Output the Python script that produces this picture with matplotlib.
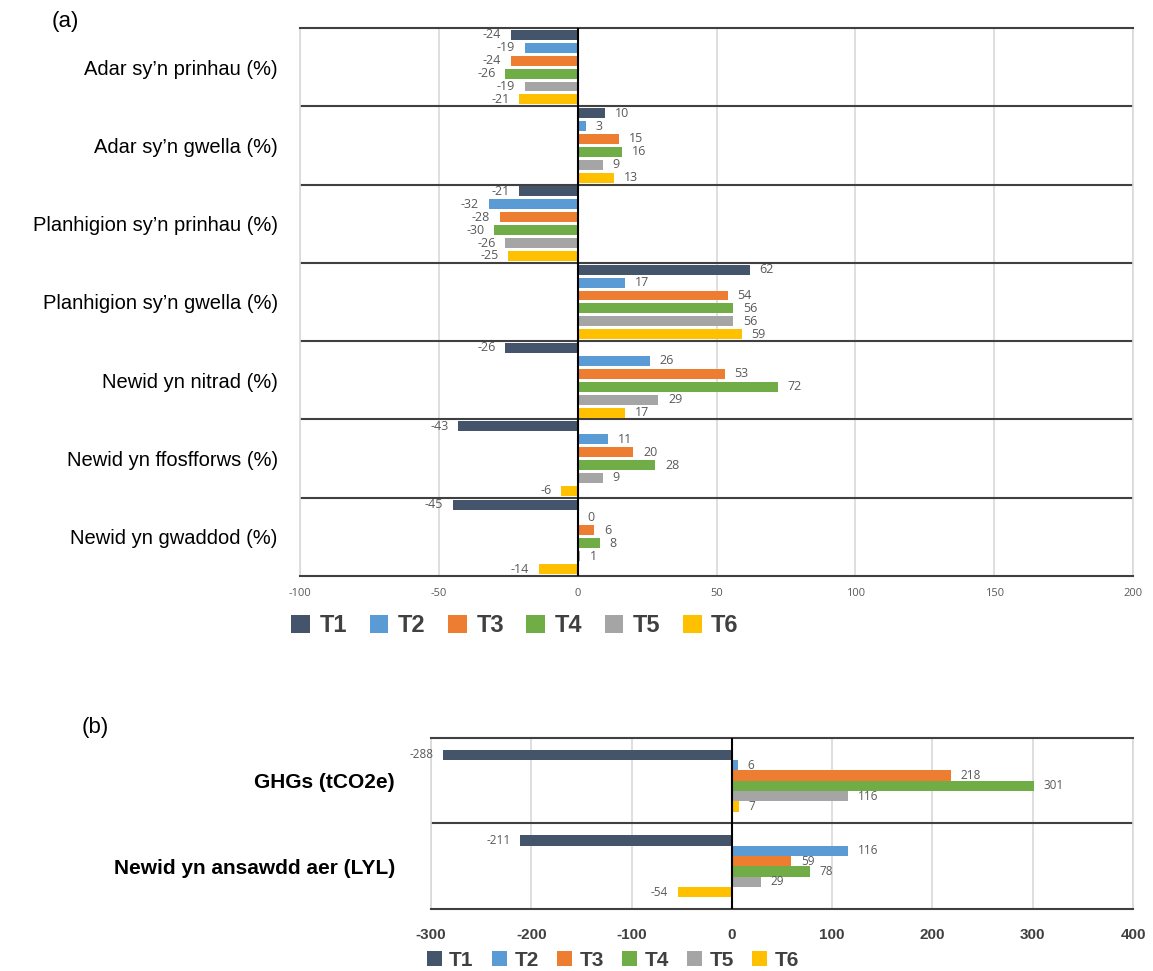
import matplotlib
matplotlib.use("Agg")
import matplotlib.pyplot as plt
import numpy as np
from matplotlib.patches import Patch

plt.rcParams["font.family"] = ["Liberation Sans", "DejaVu Sans"]
plt.rcParams["axes.unicode_minus"] = False

series = ["T1", "T2", "T3", "T4", "T5", "T6"]
colors = ["#44546A", "#5B9BD5", "#ED7D31", "#70AD47", "#A5A5A5", "#FFC000"]

# panel (a): biodiversity and water-quality indicators (%)
cats_a = [
    "Adar sy\u2019n prinhau (%)",
    "Adar sy\u2019n gwella (%)",
    "Planhigion sy\u2019n prinhau (%)",
    "Planhigion sy\u2019n gwella (%)",
    "Newid yn nitrad (%)",
    "Newid yn ffosfforws (%)",
    "Newid yn gwaddod (%)",
]
t1_a = [-24, 10, -21, 62, -26, -43, -45]
t2_a = [-19, 3, -32, 17, 26, 11, 0]
t3_a = [-24, 15, -28, 54, 53, 20, 6]
t4_a = [-26, 16, -30, 56, 72, 28, 8]
t5_a = [-19, 9, -26, 56, 29, 9, 1]
t6_a = [-21, 13, -25, 59, 17, -6, -14]

# panel (b): greenhouse gases and air quality
cats_b = ["GHGs (tCO2e)", "Newid yn ansawdd aer (LYL)"]
t1_b = [-288, -211]
t2_b = [6, 116]
t3_b = [218, 59]
t4_b = [301, 78]
t5_b = [116, 29]
t6_b = [7, -54]

ticks_a = [-100, -50, 0, 50, 100, 150, 200]
ticks_b = [-300, -200, -100, 0, 100, 200, 300, 400]

LABEL_GREY = "#595959"
SEP = "#404040"
GRID = "#D9D9D9"


def draw_panel(ax, cats, vals, slot, height, ticks, lab_size, tick_kw):
    n = len(cats)
    y = np.arange(n)
    for j, (v, c) in enumerate(zip(vals, colors)):
        pos = y + (j - 2.5) * slot
        bars = ax.barh(pos, v, height=height, color=c, zorder=3)
        for b, val in zip(bars, v):
            ax.annotate(
                f"{val}",
                xy=(val, b.get_y() + b.get_height() / 2),
                xytext=(7 if val >= 0 else -7, 0),
                textcoords="offset points",
                ha="left" if val >= 0 else "right",
                va="center", fontsize=lab_size, color=LABEL_GREY,
                family=["Open Sans", "DejaVu Sans"], zorder=4,
            )
    ax.set_ylim(n - 0.5, -0.5)
    ax.set_xlim(ticks[0], ticks[-1])
    ax.set_xticks(ticks)
    ax.set_yticks(y)
    ax.xaxis.grid(True, color=GRID, lw=1.2, zorder=0)
    for k in range(1, n):
        ax.axhline(k - 0.5, color=SEP, lw=1.5, zorder=2)
    ax.axvline(0, color="black", lw=1.5, zorder=5)
    for s in ("top", "bottom"):
        ax.spines[s].set_color(SEP)
        ax.spines[s].set_linewidth(1.5)
    for s in ("left", "right"):
        ax.spines[s].set_color(GRID)
        ax.spines[s].set_linewidth(1.2)
    ax.tick_params(axis="both", length=0)
    ax.tick_params(axis="x", **tick_kw)


fig = plt.figure(figsize=(11.53, 9.71), dpi=100)

ax_a = fig.add_axes([0.2602, 0.4068, 0.7225, 0.5644])
draw_panel(ax_a, cats_a, [t1_a, t2_a, t3_a, t4_a, t5_a, t6_a],
           slot=0.165, height=0.127, ticks=ticks_a, lab_size=9,
           tick_kw=dict(labelsize=8, labelcolor=LABEL_GREY, pad=9))
for t in ax_a.get_xticklabels():
    t.set_family(["Open Sans", "DejaVu Sans"])
ax_a.set_yticklabels(cats_a, fontsize=14.5, color="black")
ax_a.tick_params(axis="y", pad=16)

ax_b = fig.add_axes([0.3738, 0.0639, 0.6089, 0.1761])
draw_panel(ax_b, cats_b, [t1_b, t2_b, t3_b, t4_b, t5_b, t6_b],
           slot=0.121, height=0.121, ticks=ticks_b, lab_size=8.5,
           tick_kw=dict(labelsize=11, labelcolor="#404040", pad=14))
for t in ax_b.get_xticklabels():
    t.set_fontweight("bold")
ax_b.set_yticklabels(cats_b, fontsize=15, fontweight="bold", color="black")
ax_b.tick_params(axis="y", pad=26)

handles = [Patch(facecolor=c, label=s) for s, c in zip(series, colors)]
fig.legend(handles=handles, loc="center", bbox_to_anchor=(515 / 1153, 1 - 626 / 971),
           ncol=6, frameon=False, prop=dict(size=17, weight="bold"),
           labelcolor="#404040", handlelength=0.8, handleheight=0.8,
           handletextpad=0.4, columnspacing=0.95)
fig.legend(handles=handles, loc="center", bbox_to_anchor=(613 / 1153, 1 - 960 / 971),
           ncol=6, frameon=False, prop=dict(size=15, weight="bold"),
           labelcolor="#404040", handlelength=0.7, handleheight=0.7,
           handletextpad=0.35, columnspacing=0.9)

fig.text(52 / 1153, 1 - 22 / 971, "(a)", fontsize=16, va="center", ha="left")
fig.text(82 / 1153, 1 - 727 / 971, "(b)", fontsize=16, va="center", ha="left")

fig.savefig("out.png", dpi=100)
